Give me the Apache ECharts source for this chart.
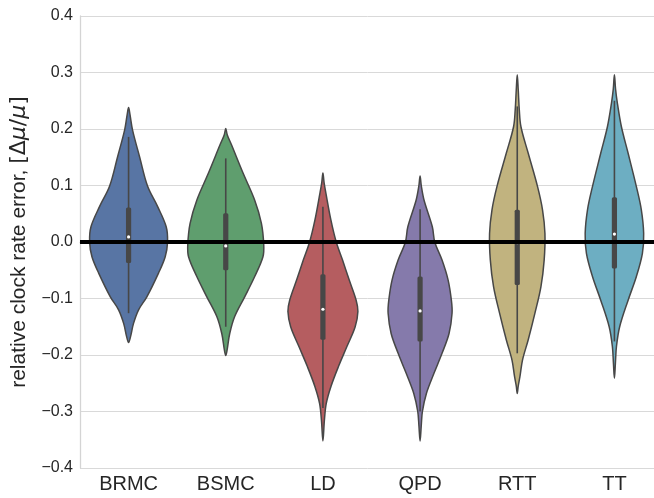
<!DOCTYPE html>
<html>
<head>
<meta charset="utf-8">
<script src="https://cdn.jsdelivr.net/npm/echarts@6/dist/echarts.min.js"></script>
<style>
  html, body { margin: 0; padding: 0; background: #ffffff; }
  #chart { width: 654px; height: 498px; }
</style>
</head>
<body>
<div id="chart"></div>
<script>
// Methods compared
const categories = ['BRMC', 'BSMC', 'LD', 'QPD', 'RTT', 'TT'];

// Kernel density outlines: [relative error, half-width as a fraction of the category band]
const profileBRMC = [[0.238, 0], [0.225, 0.015], [0.198, 0.041], [0.151, 0.113], [0.099, 0.195], [0.063, 0.298], [0.027, 0.387], [0.0, 0.401], [-0.026, 0.377], [-0.055, 0.308], [-0.097, 0.188], [-0.12, 0.103], [-0.144, 0.051], [-0.167, 0.021], [-0.178, 0]];
const profileBSMC = [[0.201, 0], [0.19, 0.015], [0.172, 0.059], [0.122, 0.178], [0.074, 0.298], [0.033, 0.367], [-0.005, 0.391], [-0.026, 0.383], [-0.061, 0.298], [-0.097, 0.195], [-0.132, 0.092], [-0.162, 0.041], [-0.19, 0.015], [-0.201, 0]];
const profileLD = [[0.122, 0], [0.105, 0.012], [0.086, 0.031], [0.039, 0.082], [0.0, 0.137], [-0.032, 0.202], [-0.067, 0.270], [-0.103, 0.342], [-0.123, 0.360], [-0.15, 0.332], [-0.185, 0.247], [-0.22, 0.161], [-0.256, 0.082], [-0.286, 0.034], [-0.316, 0.015], [-0.352, 0]];
const profileQPD = [[0.117, 0], [0.1, 0.012], [0.074, 0.041], [0.027, 0.126], [0.0, 0.151], [-0.032, 0.226], [-0.067, 0.288], [-0.103, 0.322], [-0.126, 0.329], [-0.162, 0.298], [-0.197, 0.226], [-0.232, 0.144], [-0.268, 0.065], [-0.3, 0.024], [-0.325, 0.012], [-0.352, 0]];
const profileRTT = [[0.296, 0], [0.27, 0.010], [0.234, 0.021], [0.204, 0.038], [0.157, 0.113], [0.098, 0.209], [0.057, 0.260], [0.015, 0.285], [-0.032, 0.277], [-0.079, 0.244], [-0.126, 0.182], [-0.173, 0.113], [-0.209, 0.054], [-0.238, 0.028], [-0.255, 0.010], [-0.268, 0]];
const profileTT = [[0.296, 0], [0.27, 0.012], [0.245, 0.031], [0.204, 0.072], [0.157, 0.141], [0.098, 0.226], [0.057, 0.277], [0.015, 0.301], [-0.02, 0.288], [-0.061, 0.226], [-0.103, 0.141], [-0.15, 0.054], [-0.185, 0.021], [-0.215, 0.010], [-0.241, 0]];
const profiles = [profileBRMC, profileBSMC, profileLD, profileQPD, profileRTT, profileTT];

// Box summaries per method
const whiskerLow  = [-0.126, -0.150, -0.294, -0.300, -0.197, -0.176];
const quartile1   = [-0.037, -0.050, -0.173, -0.176, -0.076, -0.047];
const medians     = [ 0.009, -0.007, -0.119, -0.122, -0.001,  0.014];
const quartile3   = [ 0.061,  0.051, -0.057, -0.061,  0.057,  0.079];
const whiskerHigh = [ 0.186,  0.148,  0.0625, 0.058,  0.240,  0.250];

// Axis settings
const yMin = -0.4, yMax = 0.4, yStep = 0.1;
const referenceLevel = 0;

const fillColors = ['#5875a4', '#5f9e6e', '#b55d60', '#857aab', '#c1b37f', '#6daec2'];
const edgeColor = '#474747';

const chart = echarts.init(document.getElementById('chart'), null, { renderer: 'canvas' });

function renderViolin(params, api) {
  const idx = api.value(0);
  const prof = profiles[idx];
  const band = api.size([1, 0])[0];
  const cx = api.coord([idx, 0])[0];
  const pts = [];
  for (let i = 0; i < prof.length; i++) {
    const y = api.coord([idx, prof[i][0]])[1];
    pts.push([cx - prof[i][1] * band, y]);
  }
  for (let i = prof.length - 2; i >= 1; i--) {
    const y = api.coord([idx, prof[i][0]])[1];
    pts.push([cx + prof[i][1] * band, y]);
  }
  const yWl = api.coord([idx, whiskerLow[idx]])[1];
  const yWh = api.coord([idx, whiskerHigh[idx]])[1];
  const yQ1 = api.coord([idx, quartile1[idx]])[1];
  const yQ3 = api.coord([idx, quartile3[idx]])[1];
  const yMed = api.coord([idx, medians[idx]])[1];
  return {
    type: 'group',
    children: [
      {
        type: 'polygon',
        shape: { points: pts, smooth: 0.35 },
        style: { fill: fillColors[idx], stroke: edgeColor, lineWidth: 1.5 }
      },
      {
        type: 'line',
        shape: { x1: cx, y1: yWh, x2: cx, y2: yWl },
        style: { stroke: edgeColor, lineWidth: 1.6 }
      },
      {
        type: 'rect',
        shape: { x: cx - 2.6, y: yQ3, width: 5.2, height: yQ1 - yQ3, r: 1.5 },
        style: { fill: edgeColor }
      },
      {
        type: 'circle',
        shape: { cx: cx, cy: yMed, r: 1.6 },
        style: { fill: '#ffffff' }
      }
    ]
  };
}

const option = {
  backgroundColor: '#ffffff',
  animation: false,
  grid: { left: 80, top: 16, width: 583, height: 452, containLabel: false, outerBoundsMode: 'none' },
  xAxis: {
    type: 'category',
    data: categories,
    boundaryGap: true,
    axisLine: { show: true, lineStyle: { color: '#d4d4d4', width: 1.3 } },
    axisTick: { show: false },
    axisLabel: { color: '#262626', fontSize: 20, fontFamily: 'Liberation Sans, Arial, sans-serif', margin: 6 },
    splitLine: { show: false }
  },
  yAxis: {
    type: 'value',
    min: yMin,
    max: yMax,
    interval: yStep,
    axisLine: { show: true, lineStyle: { color: '#d4d4d4', width: 1.3 } },
    axisTick: { show: false },
    axisLabel: {
      color: '#262626',
      fontSize: 16,
      fontFamily: 'Liberation Sans, Arial, sans-serif',
      margin: 7,
      formatter: function (v) {
        const s = Math.abs(v).toFixed(1);
        return (v < -1e-9 ? '\u2212' : '') + s;
      }
    },
    splitLine: { show: true, lineStyle: { color: '#d9d9d9', width: 1 } },
    name: '{t|relative clock rate error, }{m|[\u0394}{i|\u03bc}{m|/}{i|\u03bc}{m|]}',
    nameLocation: 'middle',
    nameGap: 46,
    nameTextStyle: {
      rich: {
        t: { fontSize: 21, color: '#262626', fontFamily: 'Liberation Sans, Arial, sans-serif' },
        m: { fontSize: 22, color: '#262626', fontFamily: 'DejaVu Sans' },
        i: { fontSize: 22, color: '#262626', fontFamily: 'DejaVu Sans', fontStyle: 'italic' }
      }
    }
  },
  series: [
    {
      type: 'custom',
      renderItem: renderViolin,
      data: categories.map(function (c, i) { return [i]; }),
      encode: { x: 0 },
      z: 2
    },
    {
      type: 'line',
      data: [],
      symbol: 'none',
      z: 10,
      markLine: {
        silent: true,
        symbol: ['none', 'none'],
        label: { show: false },
        lineStyle: { color: '#000000', width: 4, type: 'solid' },
        data: [{ yAxis: referenceLevel }]
      }
    }
  ]
};

chart.setOption(option);
</script>
</body>
</html>
